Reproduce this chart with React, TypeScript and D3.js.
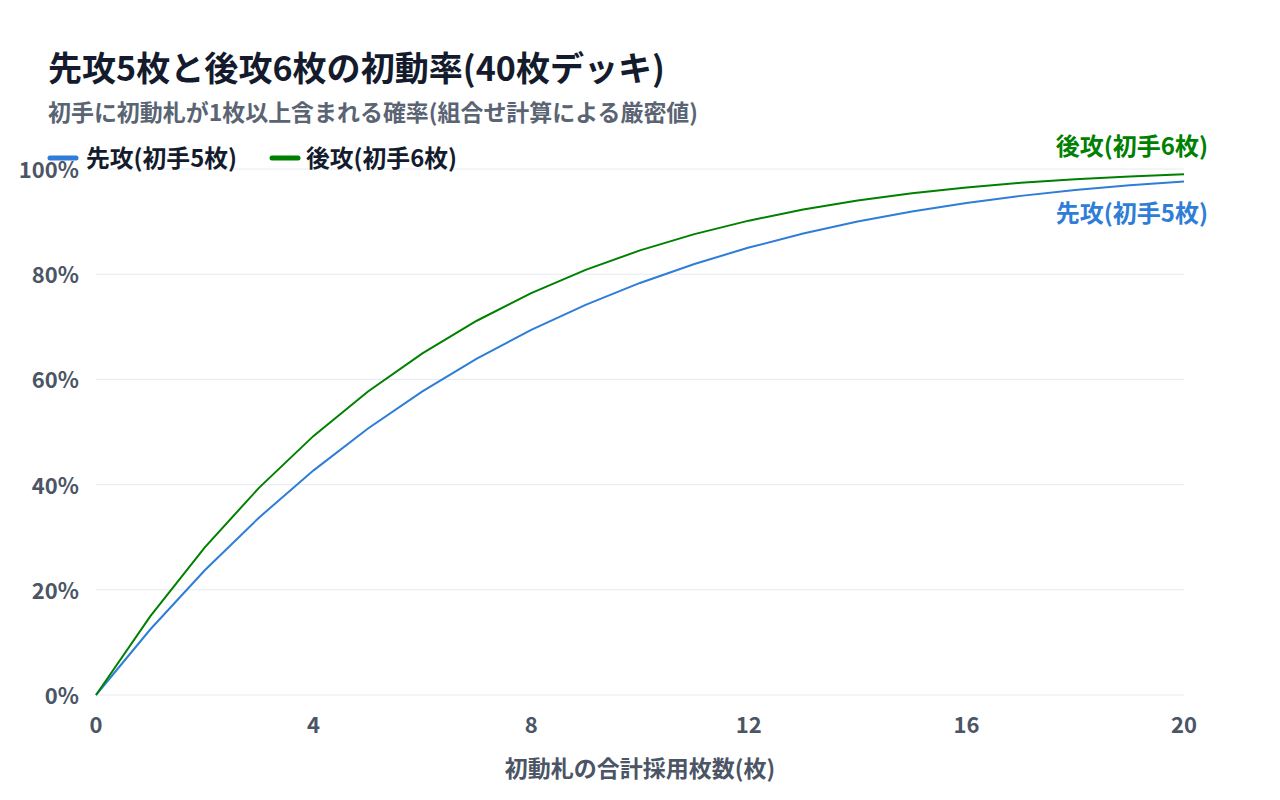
import React from "react";
import * as d3 from "d3";

const counts = [0,1,2,3,4,5,6,7,8,9,10,11,12,13,14,15,16,17,18,19,20];
const first5 = [0,0.125,0.2372,0.3376,0.4271,0.5067,0.5772,0.6393,0.694,0.7418,0.7834,0.8195,0.8506,0.8773,0.9,0.9192,0.9354,0.9489,0.96,0.9691,0.9764];
const second6 = [0,0.15,0.2808,0.3943,0.4926,0.5771,0.6496,0.7115,0.7639,0.8082,0.8453,0.8762,0.9018,0.9229,0.94,0.9539,0.9649,0.9737,0.9806,0.9859,0.9899];
const xTicks = [0,4,8,12,16,20];
const yTicks = [0,0.2,0.4,0.6,0.8,1];
const seriesNames = ["先攻(初手5枚)", "後攻(初手6枚)"];

const FONT = "'Noto Sans CJK JP', 'Noto Sans', sans-serif";
const BLUE = "#2e7dd7";
const GREEN = "#008000";

export default function App() {
  const W = 1280, H = 800;
  const x = d3.scaleLinear().domain([0, 20]).range([96, 1184]);
  const y = d3.scaleLinear().domain([0, 1]).range([695, 169]);
  const line = d3.line<number>().x((_, i) => x(counts[i])).y((d) => y(d));
  const last = counts.length - 1;
  return (
    <svg width={W} height={H} style={{ position: "absolute", left: 0, top: 0, fontFamily: FONT }}>
      <rect width={W} height={H} fill="#fff" />
      <text x={48} y={81} fontSize={34} fontWeight={700} fill="#141b2d" textLength={617} lengthAdjust="spacingAndGlyphs">先攻5枚と後攻6枚の初動率(40枚デッキ)</text>
      <text x={48} y={121} fontSize={23} fontWeight={700} fill="#5a6473" textLength={650} lengthAdjust="spacingAndGlyphs">初手に初動札が1枚以上含まれる確率(組合せ計算による厳密値)</text>
      {yTicks.map((t) => (
        <g key={t}>
          <line x1={96} x2={1184} y1={y(t)} y2={y(t)} stroke="#e6eaf1" strokeWidth={1} />
          <text x={79} y={y(t) + 9} textAnchor="end" fontSize={22} fontWeight={700} fill="#4b5565">{`${Math.round(t * 100)}%`}</text>
        </g>
      ))}
      {xTicks.map((t) => (
        <text key={t} x={x(t)} y={733} textAnchor="middle" fontSize={22} fontWeight={700} fill="#4b5565">{t}</text>
      ))}
      <text x={640} y={777} textAnchor="middle" fontSize={23} fontWeight={700} fill="#4b5565">初動札の合計採用枚数(枚)</text>
      <path d={line(first5) || ""} fill="none" stroke={BLUE} strokeWidth={2} />
      <path d={line(second6) || ""} fill="none" stroke={GREEN} strokeWidth={2} />
      <line x1={50} x2={76} y1={158} y2={158} stroke={BLUE} strokeWidth={5} strokeLinecap="round" />
      <text x={86} y={167} fontSize={24} fontWeight={700} fill="#141b2d" textLength={151} lengthAdjust="spacingAndGlyphs">{seriesNames[0]}</text>
      <line x1={272} x2={298} y1={158} y2={158} stroke={GREEN} strokeWidth={5} strokeLinecap="round" />
      <text x={306} y={167} fontSize={24} fontWeight={700} fill="#141b2d" textLength={151} lengthAdjust="spacingAndGlyphs">{seriesNames[1]}</text>
      <text x={1208} y={y(second6[last]) - 19} textAnchor="end" fontSize={24} fontWeight={700} fill={GREEN}>{seriesNames[1]}</text>
      <text x={1208} y={y(first5[last]) + 41} textAnchor="end" fontSize={24} fontWeight={700} fill={BLUE}>{seriesNames[0]}</text>
    </svg>
  );
}
